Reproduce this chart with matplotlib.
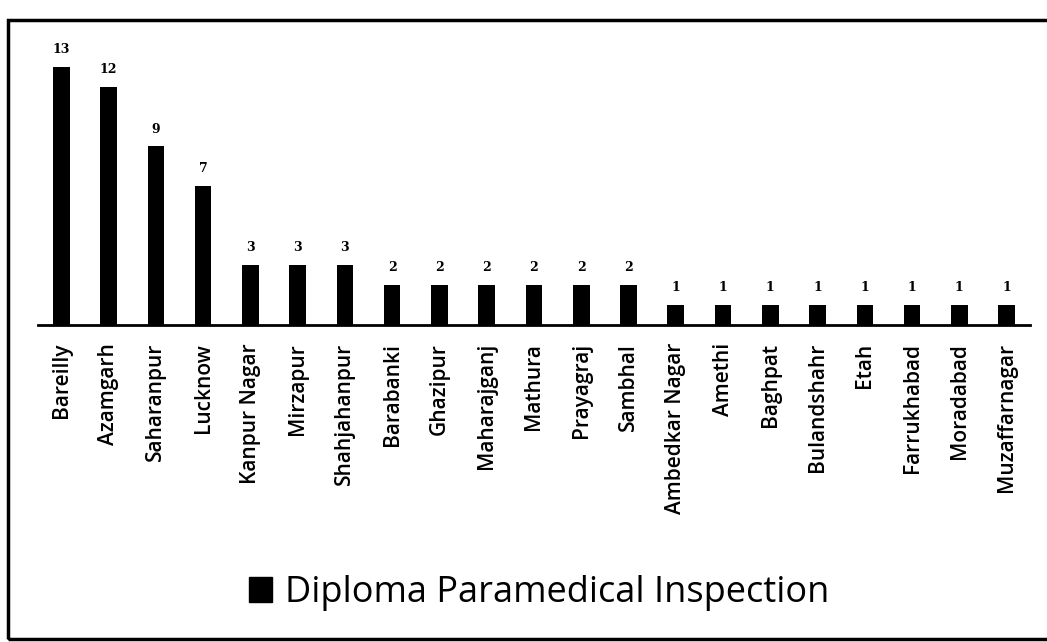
import matplotlib.pyplot as plt
from matplotlib.patches import Rectangle, Patch

districts = ['Bareilly', 'Azamgarh', 'Saharanpur', 'Lucknow', 'Kanpur Nagar',
             'Mirzapur', 'Shahjahanpur', 'Barabanki', 'Ghazipur', 'Maharajganj',
             'Mathura', 'Prayagraj', 'Sambhal', 'Ambedkar Nagar', 'Amethi',
             'Baghpat', 'Bulandshahr', 'Etah', 'Farrukhabad', 'Moradabad',
             'Muzaffarnagar']
inspections = [13, 12, 9, 7, 3, 3, 3, 2, 2, 2, 2, 2, 2, 1, 1, 1, 1, 1, 1, 1, 1]
series_name = 'Diploma Paramedical Inspection'

fig = plt.figure(figsize=(10.47, 6.42), dpi=100)
ax = fig.add_axes([0.036, 0.494, 0.948, 0.46])

x = range(len(districts))
bars = ax.bar(x, inspections, width=0.35, color='black')
for xi, v in zip(x, inspections):
    ax.text(xi, v + 0.55, str(v), ha='center', va='bottom',
            fontsize=9, fontweight='bold', family='DejaVu Serif')

ax.set_xlim(-0.5, len(districts) - 0.5)
ax.set_ylim(0, 14.9)
ax.set_xticks(list(x))
ax.set_xticklabels(districts, rotation=90, fontsize=15, family='Open Sans',
                   fontweight='semibold')
ax.tick_params(axis='x', length=0, pad=13)
ax.set_yticks([])
for s in ['top', 'right', 'left']:
    ax.spines[s].set_visible(False)
ax.spines['bottom'].set_linewidth(2)

# legend under the labels
fig.legend(handles=[Patch(color='black')], labels=[series_name],
           loc='center', bbox_to_anchor=(0.515, 0.076), frameon=False,
           prop={'family': 'Open Sans', 'size': 26}, handlelength=0.65,
           handleheight=0.65, handletextpad=0.35)

# outer border of the chart
fig.patches.append(Rectangle((0.008, 0.004), 1.2, 0.965, transform=fig.transFigure,
                             fill=False, edgecolor='black', linewidth=2.5))

fig.savefig('out.png', dpi=100)
